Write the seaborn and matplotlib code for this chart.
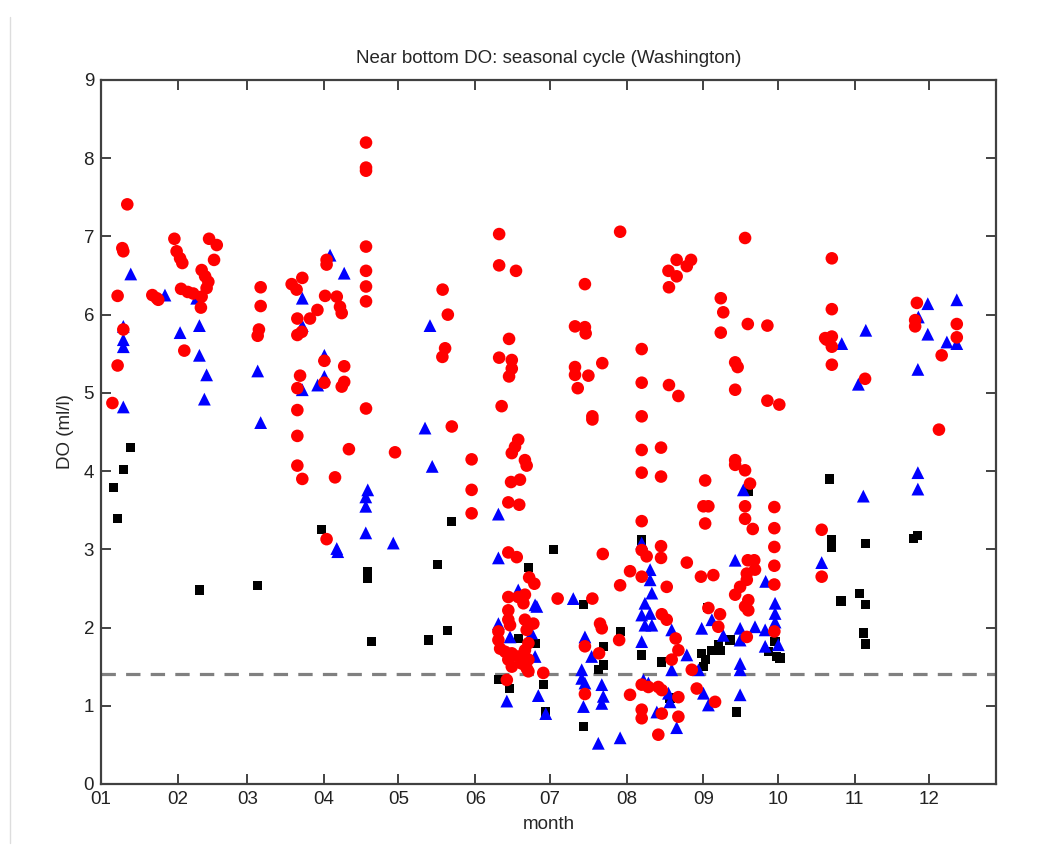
import numpy as np
import pandas as pd
import matplotlib
matplotlib.use("Agg")
import matplotlib.pyplot as plt
import seaborn as sns
from matplotlib.lines import Line2D

# ================================
# Data (day of year, DO in ml/l)
# ================================

# red circles
red_day = [11.6, 9.6, 10.0, 7.7, 10.0, 7.7, 5.6, 21.7, 23.5, 24.1,
           30.6, 31.5, 32.9, 33.8, 34.6, 33.3, 36.0, 38.2, 41.6, 43.0,
           44.3, 43.6, 41.6, 41.3, 44.6, 47.7, 46.6, 65.4, 65.4, 64.7,
           64.2, 77.9, 79.9, 82.2, 80.2, 80.2, 82.0, 85.3, 88.3, 81.3,
           80.2, 80.2, 80.2, 91.1, 91.1, 91.4, 92.0, 92.0, 96.1, 97.4,
           98.1, 99.1, 99.1, 98.1, 80.2, 82.2, 95.4, 92.0, 101.0, 107.9,
           107.9, 107.9, 107.9, 107.9, 107.9, 107.9, 107.9, 119.6, 138.8, 140.9,
           139.8, 138.7, 142.5, 150.5, 150.5, 150.5, 161.6, 161.6, 168.4, 165.6,
           161.6, 166.7, 166.7, 165.6, 162.6, 169.3, 168.0, 166.7, 172.0, 172.7,
           166.4, 170.0, 165.3, 169.7, 165.3, 168.7, 173.7, 175.8, 185.2, 165.3,
           169.3, 172.0, 171.4, 165.3, 165.3, 166.0, 172.0, 175.4, 172.7, 161.3,
           161.3, 162.0, 173.4, 172.0, 164.0, 166.7, 169.3, 165.3, 173.4, 170.7,
           166.7, 172.7, 173.4, 179.4, 164.7, 210.4, 260.8, 196.2, 233.2, 239.0,
           237.3, 229.9, 233.2, 230.1, 251.0, 252.0, 251.0, 261.9, 269.8, 192.2,
           196.2, 196.5, 219.1, 192.2, 192.2, 197.6, 193.3, 203.2, 219.1, 230.1,
           233.9, 256.8, 257.8, 256.8, 269.8, 274.6, 199.2, 199.2, 219.1, 219.1,
           226.9, 256.8, 219.1, 226.9, 244.7, 256.8, 260.8, 262.8, 244.0, 246.0,
           244.7, 260.8, 260.8, 263.9, 272.6, 272.6, 272.6, 272.6, 272.6, 219.1,
           203.4, 226.9, 226.9, 219.1, 221.1, 237.3, 214.4, 210.4, 219.1, 229.2,
           243.0, 248.0, 261.9, 264.5, 264.8, 261.5, 261.5, 258.8, 256.8, 262.1,
           260.8, 262.1, 261.5, 199.2, 202.3, 203.0, 196.2, 201.9, 210.0, 227.2,
           229.2, 232.8, 233.9, 231.2, 246.0, 250.7, 250.0, 239.3, 196.2, 214.4,
           219.1, 221.8, 225.8, 227.2, 233.9, 233.9, 219.1, 219.1, 227.2, 225.8,
           241.3, 248.7, 272.6, 295.8, 295.8, 293.1, 295.8, 295.8, 293.7, 295.8,
           309.2, 330.1, 329.4, 329.4, 346.2, 346.2, 340.1, 339.0, 291.7, 291.7]
red_do = [7.41, 6.85, 6.81, 6.24, 5.81, 5.35, 4.87, 6.25, 6.21, 6.19,
          6.97, 6.81, 6.72, 6.66, 5.54, 6.33, 6.29, 6.27, 6.57, 6.49,
          6.42, 6.34, 6.23, 6.09, 6.97, 6.89, 6.70, 6.35, 6.11, 5.81,
          5.73, 6.39, 6.32, 6.47, 5.95, 5.74, 5.78, 5.95, 6.06, 5.22,
          5.06, 4.78, 4.45, 5.41, 5.13, 6.24, 6.70, 6.64, 6.23, 6.10,
          6.02, 5.34, 5.14, 5.08, 4.07, 3.90, 3.92, 3.13, 4.28, 8.20,
          7.88, 7.84, 6.87, 6.56, 6.36, 6.17, 4.80, 4.24, 6.32, 6.00,
          5.57, 5.46, 4.57, 4.15, 3.76, 3.46, 7.03, 6.63, 6.56, 5.69,
          5.45, 5.42, 5.31, 5.21, 4.83, 4.40, 4.31, 4.23, 4.14, 4.07,
          3.86, 3.89, 3.60, 3.57, 2.96, 2.90, 2.64, 2.56, 2.37, 2.39,
          2.39, 2.42, 2.31, 2.22, 2.10, 2.03, 2.10, 2.05, 1.97, 1.95,
          1.84, 1.73, 1.80, 1.71, 1.69, 1.67, 1.63, 1.59, 1.59, 1.54,
          1.50, 1.48, 1.44, 1.42, 1.33, 7.06, 6.98, 6.39, 6.70, 6.70,
          6.62, 6.56, 6.49, 6.35, 6.21, 6.03, 5.77, 5.88, 5.86, 5.85,
          5.84, 5.76, 5.56, 5.33, 5.23, 5.22, 5.06, 5.38, 5.13, 5.10,
          4.96, 5.39, 5.33, 5.04, 4.90, 4.85, 4.70, 4.66, 4.70, 4.27,
          4.30, 4.14, 3.98, 3.93, 3.88, 4.08, 4.01, 3.84, 3.55, 3.55,
          3.33, 3.55, 3.39, 3.26, 3.54, 3.27, 3.03, 2.79, 2.55, 3.36,
          2.94, 3.04, 2.89, 2.99, 2.91, 2.83, 2.72, 2.54, 2.65, 2.52,
          2.65, 2.67, 2.86, 2.86, 2.74, 2.69, 2.61, 2.52, 2.42, 2.35,
          2.27, 2.22, 1.88, 2.37, 2.05, 1.99, 1.76, 1.67, 1.84, 2.17,
          2.10, 1.86, 1.71, 1.59, 2.25, 2.17, 2.01, 1.46, 1.15, 1.14,
          1.27, 1.24, 1.24, 1.20, 1.11, 0.86, 0.95, 0.84, 0.90, 0.63,
          1.22, 1.05, 1.95, 6.72, 6.07, 5.70, 5.72, 5.59, 5.68, 5.36,
          5.18, 6.15, 5.93, 5.85, 5.88, 5.71, 5.48, 4.53, 3.25, 2.65]

# blue triangles
blue_day = [13.0, 10.0, 10.0, 10.0, 10.0, 26.8, 32.9, 40.7, 40.7, 43.6,
            42.7, 39.6, 64.2, 65.4, 82.2, 82.2, 82.2, 91.1, 91.1, 88.4,
            93.4, 99.1, 133.7, 131.7, 134.6, 108.6, 107.8, 107.8, 107.8, 118.9,
            96.1, 96.5, 161.3, 161.3, 176.8, 164.7, 177.4, 180.4, 176.1, 169.3,
            161.3, 166.0, 176.1, 174.7, 191.5, 260.1, 256.8, 269.1, 219.1, 222.5,
            222.5, 223.2, 220.4, 219.1, 222.5, 220.4, 223.2, 219.1, 231.2, 237.3,
            196.2, 198.9, 194.9, 194.9, 196.2, 203.0, 203.6, 203.0, 195.6, 201.6,
            210.4, 231.2, 229.9, 230.5, 225.2, 219.8, 221.8, 233.2, 243.3, 247.4,
            252.0, 242.0, 244.0, 246.0, 258.8, 258.8, 264.8, 268.9, 258.8, 258.8,
            258.8, 268.9, 272.9, 272.9, 272.9, 274.2, 299.8, 309.5, 306.5, 334.5,
            346.2, 330.7, 334.5, 342.2, 346.2, 330.5, 308.5, 330.5, 330.5, 291.7]
blue_do = [6.52, 5.85, 5.68, 5.59, 4.82, 6.25, 5.77, 5.86, 5.48, 5.23,
           4.92, 6.21, 5.28, 4.62, 6.21, 5.86, 5.04, 5.48, 5.21, 5.10,
           6.76, 6.53, 5.86, 4.55, 4.06, 3.76, 3.67, 3.55, 3.21, 3.08,
           3.01, 2.97, 3.45, 2.89, 2.27, 1.06, 1.13, 0.90, 2.29, 2.48,
           2.05, 1.88, 1.63, 1.93, 2.37, 3.76, 2.86, 2.59, 3.08, 2.74,
           2.61, 2.44, 2.31, 2.16, 2.18, 2.03, 2.03, 1.82, 1.97, 1.65,
           1.88, 1.63, 1.46, 1.35, 1.29, 1.27, 1.12, 1.03, 0.99, 0.52,
           0.59, 1.46, 1.16, 1.05, 0.92, 1.33, 1.29, 0.72, 1.99, 2.10,
           1.90, 1.46, 1.16, 1.01, 1.99, 1.84, 2.01, 1.97, 1.54, 1.46,
           1.14, 1.76, 2.31, 2.18, 2.07, 1.78, 5.63, 5.80, 5.11, 6.14,
           6.19, 5.97, 5.75, 5.65, 5.63, 5.30, 3.68, 3.98, 3.77, 2.83]

# black squares
black_day = [13.0, 10.0, 6.0, 7.7, 40.7, 64.2, 90.0, 142.5, 108.6, 108.6,
             136.8, 183.5, 173.4, 110.2, 133.0, 140.9, 161.3, 165.7, 179.4, 180.4,
             169.3, 176.1, 195.6, 210.4, 203.6, 203.6, 201.6, 219.1, 227.2, 230.5,
             195.6, 243.3, 244.7, 244.0, 247.4, 250.0, 250.7, 254.7, 262.1, 257.4,
             270.2, 273.6, 274.9, 272.9, 294.8, 295.8, 295.8, 309.5, 299.5, 306.8,
             309.5, 308.5, 309.5, 328.7, 330.5, 219.1, 245.6]
black_do = [4.30, 4.02, 3.79, 3.39, 2.48, 2.54, 3.25, 3.36, 2.71, 2.63,
            2.81, 3.00, 2.77, 1.82, 1.84, 1.96, 1.34, 1.22, 1.27, 0.92,
            1.86, 1.80, 2.29, 1.95, 1.76, 1.52, 1.46, 1.65, 1.56, 1.10,
            0.73, 1.67, 1.59, 1.50, 1.71, 1.78, 1.71, 1.84, 3.74, 0.92,
            1.69, 1.63, 1.61, 1.82, 3.90, 3.12, 3.03, 3.07, 2.34, 2.44,
            2.29, 1.93, 1.79, 3.14, 3.18, 3.12, 2.26]

month_start = [1, 32, 60, 91, 121, 152, 182, 213, 244, 274, 305, 335]
month_labels = ["01", "02", "03", "04", "05", "06", "07", "08", "09", "10", "11", "12"]
hypoxia_level = 1.4

# ================================
# Build table (black first so red ends up on top)
# ================================
df = pd.concat([
    pd.DataFrame({"day": black_day, "do": black_do, "group": "black"}),
    pd.DataFrame({"day": blue_day, "do": blue_do, "group": "blue"}),
    pd.DataFrame({"day": red_day, "do": red_do, "group": "red"}),
], ignore_index=True)

sns.set_style("ticks")
plt.rcParams["font.family"] = ["Liberation Sans", "DejaVu Sans"]

fig = plt.figure(figsize=(10.38, 8.6), dpi=100)
ax = fig.add_axes([0.0973, 0.0884, 0.8622, 0.8186])

sns.scatterplot(data=df, x="day", y="do", hue="group", style="group", size="group",
                palette={"black": "#000000", "blue": "#0000ff", "red": "#ff0000"},
                markers={"black": "s", "blue": "^", "red": "o"},
                sizes={"black": 44, "blue": 85, "red": 82},
                linewidth=0, legend=False, ax=ax, zorder=3)

ax.axhline(hypoxia_level, color="#808080", lw=2.3, ls=(0, (4.5, 3.2)), zorder=2)

ax.set_xlim(1, 362)
ax.set_ylim(0, 9)
ax.set_xticks(month_start)
ax.set_xticklabels(month_labels)
ax.set_yticks(range(0, 10))

ax.tick_params(direction="in", length=7, width=1.2, top=True, right=True,
               labelsize=13.5, colors="#222222", pad=5)
for s in ax.spines.values():
    s.set_color("#404040")
    s.set_linewidth(1.6)

ax.set_xlabel("month", fontsize=13.5, labelpad=6)
ax.set_ylabel("DO (ml/l)", fontsize=13.5, labelpad=7)
ax.set_title("Near bottom DO: seasonal cycle (Washington)", fontsize=13.5, pad=12)

# faint frame line at the left edge of the picture
fig.add_artist(Line2D([0.0096, 0.0096], [0.02, 0.98], color="#dddddd", lw=1))

fig.savefig("out.png", dpi=100)
